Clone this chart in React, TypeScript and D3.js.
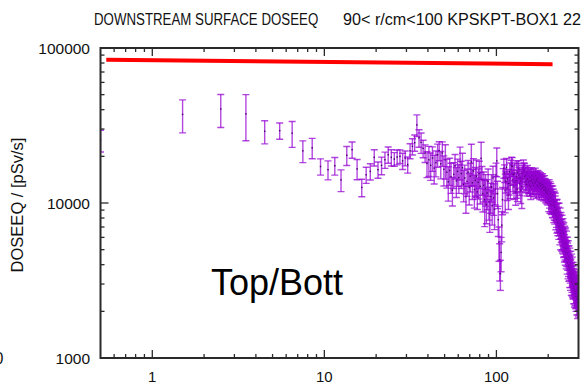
import React from 'react';
import * as d3 from 'd3';

const W = 586;
const H = 385;
const FRAME = { left: 100.5, right: 578.5, top: 48, bottom: 358 };

const titleLeft = 'DOWNSTREAM SURFACE DOSEEQ';
const titleRight = '90< r/cm<100 KPSKPT-BOX1 22';
const yAxisLabel = 'DOSEEQ / [pSv/s]';
const panelLabel = 'Top/Bott';

const xDomain = [0.5, 300];
const yDomain = [1000, 100000];
const xTickValues = [1, 10, 100];
const yTickValues = [1000, 10000, 100000];

// reference limit line (r in cm, dose in pSv/s)
const limitR = [0.54, 212];
const limitDose = [84000, 78500];

// DOSEEQ per 1-cm radial bin; bin i is centred at r = i + 0.5 cm
const dose = [
  25400, 37300, 40400, 37600, 29000, 29300, 28200, 21700, 22700, 17200,
  16400, 17400, 14100, 20300, 22100, 16600, 12600, 15200, 16000, 19700,
  16400, 17500, 19000, 20500, 19700, 19200, 19800, 20000, 18700, 19500,
  17700, 21700, 23200, 24500, 31900, 26300, 24600, 22500, 21000, 18000,
  19000, 17500, 19500, 16800, 18200, 20500, 21800, 17900, 21000, 16500,
  19000, 15800, 13700, 16200, 14800, 12100, 15300, 17400, 13900, 16000,
  14600, 18500, 15500, 16900, 13200, 14500, 11000, 13800, 15800, 12600,
  14900, 18400, 13500, 16100, 12200, 14000, 14900, 11800, 13600, 15500,
  12800, 19400, 14200, 11500, 13000, 10500, 12400, 9800, 11600, 13800,
  10200, 8500, 11000, 12700, 9600, 14500, 10800, 9100, 12300, 15200,
  18700, 11500, 7800, 5600, 4300, 3500, 4800, 7200, 10500, 14500,
  16800, 15600, 12000, 13800, 17000, 12500, 14300, 11200, 13400, 15900,
  13000, 16400, 17500, 17200, 14100, 15300, 12700, 15600, 13600, 11800,
  14000, 14700, 12300, 15800, 16600, 15200, 13300, 14500, 12100, 13900,
  12800, 15500, 14400, 16900, 15900, 16200, 14800, 13700, 15100, 14000,
  13200, 15600, 14300, 13500, 14900, 13800, 13000, 14600, 12700, 13900,
  15100, 14200, 13300, 13600, 14800, 12900, 14100, 13400, 15000, 13700,
  12600, 14300, 13900, 13100, 14500, 12800, 13600, 14200, 12400, 13300,
  14000, 12900, 13500, 12300, 13100, 13800, 12600, 13200, 12100, 12800,
  13400, 12200, 12700, 11800, 12500, 12000, 11600, 12300, 11400, 11900,
  11800, 10600, 12400, 11300, 10200, 11900, 10800, 11500, 9800, 11000,
  10400, 9600, 11200, 9900, 10500, 8900, 9700, 10200, 8600, 9400,
  9900, 8300, 9100, 8700, 7800, 9000, 8200, 7500, 8600, 7900,
  7100, 8300, 7400, 6800, 7800, 7100, 6400, 7300, 6700, 6100,
  7000, 6300, 5800, 6600, 6000, 5500, 6400, 5700, 5200, 6000,
  5500, 4900, 5700, 5100, 4700, 5400, 4800, 4400, 5100, 4600,
  4100, 4800, 4300, 3900, 4500, 4000, 3700, 4300, 3800, 3500,
  4100, 3600, 3300, 3900, 3400, 3100, 3700, 3200, 3000, 3500,
  3100, 2800, 3300, 2900, 2700, 3100, 2800, 2600, 3000, 2700,
  2500, 2900, 2600, 2400, 2800, 2500, 2300, 2700, 2400, 2300,
];

// statistical uncertainty of each bin, percent of the bin value
const doseErrPct = [
  16, 24, 24, 33, 17, 12, 19, 16, 15, 12,
  14, 13, 16, 14, 12, 15, 13, 12, 12, 12,
  12, 13, 12, 12, 12, 10, 11, 10, 12, 11,
  12, 11, 12, 12, 16, 13, 15, 13, 13, 19,
  22, 20, 18, 21, 19, 17, 14, 20, 18, 22,
  25, 21, 25, 20, 22, 21, 19, 18, 22, 20,
  21, 24, 20, 24, 23, 21, 22, 20, 19, 23,
  21, 30, 22, 20, 24, 21, 27, 23, 22, 20,
  23, 27, 21, 24, 22, 33, 23, 25, 22, 20,
  24, 24, 22, 20, 25, 19, 23, 26, 21, 19,
  21, 20, 22, 25, 27, 22, 25, 22, 20, 15,
  14, 13, 28, 16, 14, 17, 15, 19, 16, 14,
  18, 15, 13, 14, 16, 15, 17, 16, 15, 18,
  16, 27, 17, 14, 13, 12, 16, 14, 18, 15,
  28, 13, 15, 12, 14, 11, 14, 15, 13, 14,
  16, 12, 14, 15, 13, 16, 15, 13, 17, 14,
  12, 13, 15, 16, 12, 15, 13, 14, 12, 13,
  15, 12, 13, 14, 12, 15, 13, 12, 15, 14,
  12, 14, 13, 15, 13, 12, 14, 13, 15, 13,
  12, 14, 13, 15, 13, 14, 15, 13, 15, 14,
  15, 17, 14, 18, 16, 15, 19, 16, 14, 17,
  18, 16, 15, 19, 17, 16, 20, 17, 15, 18,
  17, 19, 16, 20, 18, 17, 21, 18, 16, 19,
  18, 20, 17, 21, 19, 18, 22, 19, 17, 20,
  19, 21, 18, 20, 22, 19, 17, 21, 20, 18,
  22, 19, 21, 18, 20, 22, 19, 21, 18, 20,
  21, 19, 22, 20, 18, 21, 23, 19, 20, 22,
  19, 21, 23, 20, 22, 19, 21, 23, 20, 18,
  22, 20, 19, 23, 21, 20, 22, 19, 21, 23,
  20, 22, 19, 21, 23, 20, 22, 19, 21, 20,
];

const BAR = '#9400d3';
const AXIS = '#2a2a2a';
const SANS = 'Liberation Sans, Arial, sans-serif';

export default function App() {
  const x = d3.scaleLog().domain(xDomain).range([FRAME.left, FRAME.right]);
  const y = d3.scaleLog().domain(yDomain).range([FRAME.bottom, FRAME.top]);

  const points = dose.map((v, i) => ({
    r: i + 0.5,
    v,
    e: (v * doseErrPct[i]) / 100,
  }));

  const xMinor = x.ticks().filter((t) => !xTickValues.includes(t) && t > xDomain[0] && t < xDomain[1]);
  const yMinor = y.ticks().filter((t) => !yTickValues.includes(t));

  const limitLine = d3
    .line<number>()
    .x((_, i) => x(limitR[i]))
    .y((d) => y(d))(limitDose);

  const cap = 3.5;
  const majorLen = 8;
  const minorLen = 4;

  return (
    <svg
      width={W}
      height={H}
      style={{ position: 'absolute', left: 0, top: 0, background: '#fff' }}
      fontFamily={SANS}
    >
      <defs>
        <clipPath id="plot-area">
          <rect
            x={FRAME.left}
            y={FRAME.top}
            width={FRAME.right - FRAME.left}
            height={FRAME.bottom - FRAME.top}
          />
        </clipPath>
      </defs>
      <rect width={W} height={H} fill="#fff" />

      {/* title, set in a condensed cut */}
      <text transform="translate(94, 25) scale(0.805, 1)" fontSize={16.5} fill="#111">
        {titleLeft}
      </text>
      <text transform="translate(343, 25) scale(0.98, 1)" fontSize={16.5} fill="#111">
        {titleRight}
      </text>

      {/* error bars */}
      <g clipPath="url(#plot-area)">
        {points.map((p, i) => {
          const cx = x(p.r);
          const y0 = y(Math.max(p.v - p.e, 1));
          const y1 = y(p.v + p.e);
          const cy = y(p.v);
          return (
            <g key={i} stroke={BAR} strokeWidth={1.4} strokeOpacity={0.72}>
              <line x1={cx} x2={cx} y1={y0} y2={y1} />
              <line x1={cx - cap} x2={cx + cap} y1={y0} y2={y0} />
              <line x1={cx - cap} x2={cx + cap} y1={y1} y2={y1} />
              <rect x={cx - 0.7} y={cy - 0.7} width={1.4} height={1.4} fill="#3d0060" stroke="none" />
            </g>
          );
        })}
        <path d={limitLine ?? ''} stroke="#ff0000" strokeWidth={4} fill="none" />
      </g>

      {/* frame and ticks */}
      <g stroke={AXIS} strokeWidth={1.3} fill="none">
        {xTickValues.map((t) => (
          <g key={`xM${t}`}>
            <line x1={x(t)} x2={x(t)} y1={FRAME.bottom} y2={FRAME.bottom - majorLen} />
            <line x1={x(t)} x2={x(t)} y1={FRAME.top} y2={FRAME.top + majorLen} />
          </g>
        ))}
        {xMinor.map((t) => (
          <g key={`xm${t}`}>
            <line x1={x(t)} x2={x(t)} y1={FRAME.bottom} y2={FRAME.bottom - minorLen} />
            <line x1={x(t)} x2={x(t)} y1={FRAME.top} y2={FRAME.top + minorLen} />
          </g>
        ))}
        {yTickValues.map((t) => (
          <g key={`yM${t}`}>
            <line x1={FRAME.left} x2={FRAME.left + majorLen} y1={y(t)} y2={y(t)} />
            <line x1={FRAME.right} x2={FRAME.right - majorLen} y1={y(t)} y2={y(t)} />
          </g>
        ))}
        {yMinor.map((t) => (
          <g key={`ym${t}`}>
            <line x1={FRAME.left} x2={FRAME.left + minorLen} y1={y(t)} y2={y(t)} />
            <line x1={FRAME.right} x2={FRAME.right - minorLen} y1={y(t)} y2={y(t)} />
          </g>
        ))}
        <rect
          x={FRAME.left}
          y={FRAME.top}
          width={FRAME.right - FRAME.left}
          height={FRAME.bottom - FRAME.top}
          strokeWidth={2}
        />
      </g>

      {/* tick labels */}
      {yTickValues.map((t) => (
        <text key={`yl${t}`} x={90} y={y(t)} dy="0.36em" textAnchor="end" fontSize={15.5} fill="#111">
          {t}
        </text>
      ))}
      {xTickValues.map((t) => (
        <text key={`xl${t}`} x={x(t)} y={382} textAnchor="middle" fontSize={15} fill="#111">
          {t}
        </text>
      ))}

      {/* axis title */}
      <text
        transform={`translate(23, 205) rotate(-90)`}
        textAnchor="middle"
        fontSize={16.5}
        fill="#111"
      >
        {yAxisLabel}
      </text>

      {/* edge of a neighbouring label */}
      <text x={-5.5} y={364} fontSize={16} fill="#111">0</text>

      {/* panel label */}
      <text x={211} y={295} fontSize={36} fill="#000">
        {panelLabel}
      </text>
    </svg>
  );
}
